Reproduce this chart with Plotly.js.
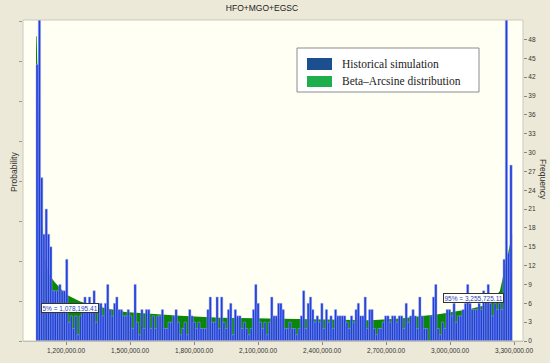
<!DOCTYPE html>
<html>
<head>
<meta charset="utf-8">
<script src="https://cdn.plot.ly/plotly-3.0.1.min.js"></script>
<style>html,body{margin:0;padding:0;background:#ECE9D8;}#chart{width:550px;height:363px;}</style>
</head>
<body>
<div id="chart"></div>
<script>
// ---- data ----
const chartTitle = 'HFO+MGO+EGSC';
const binStart = 1059000;   // left edge of first histogram bin
const binWidth = 10680;     // histogram bin width
const frequency = [
  44,70,26,17,21,17,15,8,8,8,9,8,8,13,3,4,2,4,1,4,6,7,5,7,5,8,3,6,6,4,
  6,9,5,4,6,7,5,5,4,4,5,4,2,9,3,1,5,2,5,5,2,4,2,4,4,5,2,2,3,3,4,
  5,3,1,2,3,1,5,4,3,2,3,2,2,2,5,7,3,3,7,2,7,3,2,5,6,1,5,4,4,2,
  3,2,1,2,5,9,6,3,2,3,1,3,7,4,4,6,6,5,2,2,3,2,2,1,2,4,8,2,6,7,
  5,3,4,3,6,2,5,3,4,2,5,4,
  4,4,4,3,2,4,3,5,6,4,4,7,2,5,5,2,1,2,2,3,4,4,3,4,4,3,4,4,2,6,
  3,4,5,4,2,7,4,2,2,0,4,7,9,2,1,3,2,5,5,4,6,3,4,4,5,6,9,6,5,5,
  5,6,5,8,7,9,6,4,6,5,6,5,13,70,14,28
];
const fitX = [1059000,1062000,1069000,1083000,1102000,1120000,1148000,1200000,1266000,1359000,1477000,
  1641000,1734000,1922000,2109000,2297000,2484000,2625000,2766000,2953000,3094000,3188000,3234000,
  3258000,3277000,3291000];
const fitY = [48.5,48.5,38,20,13,10.6,9.3,7.4,6.3,5.4,4.6,4.2,4.0,3.7,3.6,3.5,3.3,3.3,3.6,4.3,5.1,5.9,8,12,15,17];
const xTicks = [1200000,1500000,1800000,2100000,2400000,2700000,3000000,3300000];
const freqTicks = [0,3,6,9,12,15,18,21,24,27,30,33,36,39,42,45,48];
const legendLabels = ['Historical simulation','Beta\u2013Arcsine distribution'];
const pct5 = {p:'5%', value:1078195.41, level:5.2};
const pct95 = {p:'95%', value:3255725.11, level:6.8};

// ---- layout helpers (pixel -> paper) ----
const L = 23, R = 523, T = 20, B = 341;
const px = x => (x - L) / (R - L);
const py = y => (B - y) / (B - T);

const centers = frequency.map((_, i) => binStart + (i + 0.5) * binWidth);
const fmt = v => v.toLocaleString('en-US', {minimumFractionDigits:2, maximumFractionDigits:2});

const traces = [
  {type:'scatter', x:fitX, y:fitY, xaxis:'x', yaxis:'y', mode:'lines', fill:'tozeroy',
   line:{width:0, color:'#0a870a'}, fillcolor:'#0a870a', hoverinfo:'skip', showlegend:false},
  {type:'bar', x:centers, y:frequency, xaxis:'x', yaxis:'y2', width:binWidth,
   marker:{color:'#1f3de0', line:{color:'rgba(160,172,225,0.95)', width:0.5}}, showlegend:false},
  {type:'scatter', x:[], y:[], xaxis:'x', yaxis:'y3', showlegend:false}
];

const font = {family:'Liberation Sans, Arial, sans-serif', color:'#333'};
const layout = {
  width:550, height:363,
  margin:{l:L, r:550-R, t:T, b:363-B, pad:0},
  paper_bgcolor:'#ECE9D8', plot_bgcolor:'#FFFFF3',
  showlegend:false,
  title:{text:chartTitle, x:262/550, xref:'container', xanchor:'center', y:1-8/363, yref:'container', yanchor:'middle',
         font:Object.assign({}, font, {size:8.5, color:'#222'})},
  xaxis:{range:[998000,3342000], tickvals:xTicks, ticktext:xTicks.map(fmt), ticks:'outside', ticklen:3,
         tickcolor:'#888', tickfont:Object.assign({}, font, {size:6.5}), showgrid:false, zeroline:false,
         showline:true, linecolor:'#b8b8b0', linewidth:1},
  yaxis:{range:[0,51.1], visible:false, fixedrange:true},
  yaxis2:{range:[0,51.1], overlaying:'y', side:'right', tickvals:freqTicks, ticks:'outside', ticklen:3,
          tickcolor:'#888', tickfont:Object.assign({}, font, {size:6.5}), showgrid:false, zeroline:false,
          showline:false},
  yaxis3:{range:[0,8.03], overlaying:'y', side:'left', dtick:1, ticks:'outside', ticklen:3, tickcolor:'#999',
          showticklabels:false, showgrid:false, zeroline:false, showline:false},
  shapes:[
    {type:'rect', xref:'paper', yref:'paper', x0:0, x1:1, y0:0, y1:1, line:{color:'#c9c9c0', width:1}},
    {type:'rect', xref:'paper', yref:'paper', x0:px(297), x1:px(479), y0:py(92), y1:py(48),
     fillcolor:'#ffffff', line:{color:'#8c8c8c', width:1}},
    {type:'rect', xref:'paper', yref:'paper', x0:px(307), x1:px(332), y0:py(70), y1:py(58),
     fillcolor:'#1b4f8f', line:{width:0}},
    {type:'rect', xref:'paper', yref:'paper', x0:px(307), x1:px(332), y0:py(87), y1:py(76),
     fillcolor:'#1fae4c', line:{width:0}}
  ],
  annotations:[
    {xref:'paper', yref:'paper', x:px(14), y:py(172), text:'Probability', textangle:-90, showarrow:false,
     font:Object.assign({}, font, {size:8.5}), xanchor:'center', yanchor:'middle'},
    {xref:'paper', yref:'paper', x:px(543), y:py(179), text:'Frequency', textangle:90, showarrow:false,
     font:Object.assign({}, font, {size:8.5}), xanchor:'center', yanchor:'middle'},
    {xref:'paper', yref:'paper', x:px(340), y:py(64), text:legendLabels[0], showarrow:false, xanchor:'left', yanchor:'middle',
     font:{family:'Liberation Serif, Times New Roman, serif', size:11.5, color:'#222'}},
    {xref:'paper', yref:'paper', x:px(340), y:py(81.5), text:legendLabels[1], showarrow:false, xanchor:'left', yanchor:'middle',
     font:{family:'Liberation Serif, Times New Roman, serif', size:11.5, color:'#222'}},
    {xref:'x', yref:'y2', x:pct5.value, y:pct5.level, text:pct5.p + ' = ' + fmt(pct5.value), showarrow:false,
     xanchor:'left', yanchor:'middle', xshift:1, bgcolor:'#ffffff', bordercolor:'#333', borderwidth:1, borderpad:0.5,
     font:Object.assign({}, font, {size:6.5, color:'#2a3fb0'})},
    {xref:'x', yref:'y2', x:pct95.value, y:pct95.level, text:pct95.p + ' = ' + fmt(pct95.value), showarrow:false,
     xanchor:'right', yanchor:'middle', xshift:-1, bgcolor:'#ffffff', bordercolor:'#333', borderwidth:1, borderpad:0.5,
     font:Object.assign({}, font, {size:6.5, color:'#2a3fb0'})}
  ],
  bargap:0
};

Plotly.newPlot('chart', traces, layout, {staticPlot:true, displayModeBar:false});
</script>
</body>
</html>
